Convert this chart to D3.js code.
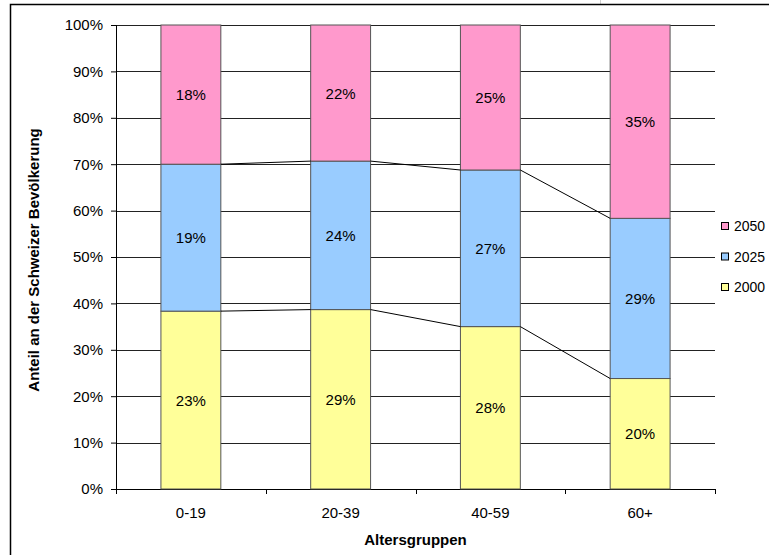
<!DOCTYPE html>
<html>
<head>
<meta charset="utf-8">
<script src="https://cdn.jsdelivr.net/npm/d3@7/dist/d3.min.js"></script>
<style>
  body { margin: 0; background: #fff; }
  svg { display: block; font-family: "Liberation Sans", Arial, sans-serif; }
</style>
</head>
<body>
<svg id="vis1" width="769" height="555"></svg>
<script>
// age groups and the share of each group per year (in %)
var groups = ["0-19", "20-39", "40-59", "60+"];
var years = ["2000", "2025", "2050"];
var v2000 = [23, 29, 28, 20];
var v2025 = [19, 24, 27, 29];
var v2050 = [18, 22, 25, 35];
var yTicks = [0, 10, 20, 30, 40, 50, 60, 70, 80, 90, 100];

var colors = { "2000": "#FFFF99", "2025": "#99CCFF", "2050": "#FF99CC" };

var svg = d3.select("svg#vis1");

// outer chart frame
svg.append("line").attr("x1", 600.5).attr("x2", 600.5).attr("y1", 0).attr("y2", 4)
    .style("stroke", "#d0d0d0");
svg.append("rect")
    .attr("x", 10.5).attr("y", 4.5)
    .attr("width", 800).attr("height", 600)
    .style("fill", "none").style("stroke", "#000").style("stroke-width", 1.5);

var margin = { top: 25, left: 116, right: 54, bottom: 66 };
var plotWidth = 769 - margin.left - margin.right;
var plotHeight = 555 - margin.top - margin.bottom;

var plot = svg.append("g").attr("id", "plot")
    .attr("transform", "translate(" + margin.left + "," + margin.top + ")");

// build rows and stack to 100%
var rows = groups.map(function (g, i) {
    return { group: g, "2000": v2000[i], "2025": v2025[i], "2050": v2050[i] };
});
var stack = d3.stack().keys(years).offset(d3.stackOffsetExpand);
var series = stack(rows);

var xScale = d3.scaleBand()
    .domain(groups)
    .range([0, plotWidth])
    .paddingInner(0.6)
    .paddingOuter(0.3);

var yScale = d3.scaleLinear().domain([0, 1]).range([plotHeight, 0]);

// gridlines
plot.append("g")
    .selectAll("line")
    .data(yTicks.slice(1))
    .enter().append("line")
    .attr("x1", 0).attr("x2", plotWidth)
    .attr("y1", function (d) { return Math.round(yScale(d / 100)) + 0.5; })
    .attr("y2", function (d) { return Math.round(yScale(d / 100)) + 0.5; })
    .style("stroke", "#222").style("stroke-width", 1);

// y axis
var yAxis = d3.axisLeft(yScale)
    .tickValues(yTicks.map(function (d) { return d / 100; }))
    .tickFormat(d3.format(".0%"))
    .tickSize(5).tickPadding(8);
var yGroup = plot.append("g").attr("id", "y-axis").call(yAxis);
yGroup.select(".domain").remove();
yGroup.append("line").attr("x1", 0.5).attr("x2", 0.5).attr("y1", 0).attr("y2", plotHeight)
    .style("stroke", "#000");
yGroup.selectAll("text").style("font-size", "15px").style("fill", "#000")
    .style("font-family", "'Liberation Sans', Arial, sans-serif");

// x axis with ticks at category boundaries
var step = xScale.step();
var xBounds = d3.range(groups.length + 1).map(function (i) {
    return xScale(groups[0]) - step * 0.3 + i * step;
});
var xGroup = plot.append("g").attr("id", "x-axis")
    .attr("transform", "translate(0," + plotHeight + ")");
xGroup.append("line").attr("x1", 0).attr("x2", plotWidth).attr("y1", 0.5).attr("y2", 0.5)
    .style("stroke", "#000");
xGroup.selectAll("line.tick")
    .data(xBounds)
    .enter().append("line")
    .attr("class", "tick")
    .attr("x1", function (d) { return Math.round(d) + 0.5; })
    .attr("x2", function (d) { return Math.round(d) + 0.5; })
    .attr("y1", 0).attr("y2", 5)
    .style("stroke", "#000");
xGroup.selectAll("text")
    .data(groups)
    .enter().append("text")
    .attr("x", function (d) { return xScale(d) + xScale.bandwidth() / 2; })
    .attr("y", 29)
    .style("text-anchor", "middle")
    .style("font-size", "15px")
    .text(function (d) { return d; });

// bars
var layers = plot.selectAll("g.layer")
    .data(series)
    .enter().append("g")
    .attr("class", "layer")
    .style("fill", function (d) { return colors[d.key]; });

layers.selectAll("rect")
    .data(function (d) { return d; })
    .enter().append("rect")
    .attr("x", function (d) { return xScale(d.data.group); })
    .attr("y", function (d) { return yScale(d[1]); })
    .attr("width", xScale.bandwidth())
    .attr("height", function (d) { return yScale(d[0]) - yScale(d[1]); })
    .style("stroke", "#555").style("stroke-width", 1);

// series lines between bars
series.slice(0, 2).forEach(function (s) {
    for (var i = 0; i < s.length - 1; i++) {
        plot.append("line")
            .attr("x1", xScale(groups[i]) + xScale.bandwidth())
            .attr("y1", yScale(s[i][1]))
            .attr("x2", xScale(groups[i + 1]))
            .attr("y2", yScale(s[i + 1][1]))
            .style("stroke", "#000").style("stroke-width", 1);
    }
});

// value labels
layers.selectAll("text")
    .data(function (d) { return d.map(function (p) { p.key = d.key; return p; }); })
    .enter().append("text")
    .attr("x", function (d) { return xScale(d.data.group) + xScale.bandwidth() / 2; })
    .attr("y", function (d) { return (yScale(d[0]) + yScale(d[1])) / 2 + 5.5; })
    .style("text-anchor", "middle")
    .style("font-size", "15px")
    .style("fill", "#000")
    .text(function (d) { return d.data[d.key] + "%"; });

// axis titles
svg.append("text")
    .attr("x", margin.left + plotWidth / 2)
    .attr("y", 545)
    .style("text-anchor", "middle")
    .style("font-size", "15px")
    .style("font-weight", "bold")
    .text("Altersgruppen");

svg.append("text")
    .attr("transform", "translate(39," + (margin.top + plotHeight / 2 + 3) + ") rotate(-90)")
    .style("text-anchor", "middle")
    .style("font-size", "15px")
    .style("font-weight", "bold")
    .text("Anteil an der Schweizer Bevölkerung");

// legend
var legendYears = ["2050", "2025", "2000"];
var legend = svg.append("g").attr("transform", "translate(721,226)");
legendYears.forEach(function (y, i) {
    legend.append("rect")
        .attr("x", 0.5).attr("y", i * 30.5 - 3.5)
        .attr("width", 7).attr("height", 7)
        .style("fill", colors[y]).style("stroke", "#000");
    legend.append("text")
        .attr("x", 13).attr("y", i * 30.5 + 5)
        .style("font-size", "14px")
        .text(y);
});
</script>
</body>
</html>
